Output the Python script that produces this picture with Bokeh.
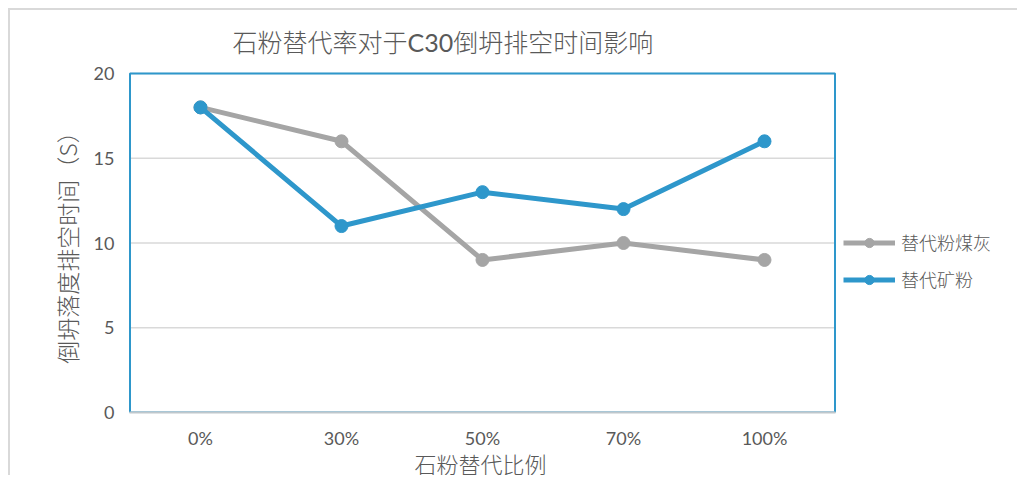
from bokeh.plotting import figure
from bokeh.models import (Legend, LegendItem, Range1d, FixedTicker, BoxAnnotation,
                          Title)
from bokeh.embed import file_html
from bokeh.resources import INLINE

# replacement ratio of stone powder
categories = ["0%", "30%", "50%", "70%", "100%"]
# emptying time (s) when replacing fly ash
fly_ash = [18, 16, 9, 10, 9]
# emptying time (s) when replacing slag powder
slag = [18, 11, 13, 12, 16]
y_ticks = [0, 5, 10, 15, 20]

GRAY = "#A5A5A5"
BLUE = "#2E97CB"
TEXT = "#595959"
CJK = "'Noto Sans CJK SC Light', 'Noto Sans CJK SC'"
LATIN_CJK = "Lato, " + CJK

n = len(categories)
xs = [i + 0.5 for i in range(n)]          # category centres on the x scale
y_max = y_ticks[-1]

# the frame runs to the right edge so the legend can sit beside the plot box
p = figure(
    width=1009, height=467,
    x_range=Range1d(-0.0106, 6.3085),
    y_range=Range1d(0, 20.118),
    output_backend="svg", toolbar_location=None,
    min_border_left=118, min_border_right=0,
    min_border_top=60, min_border_bottom=65,
    title="石粉替代率对于C30倒坍排空时间影响",
)

# light frame around the whole chart
p.margin = (8, 0, 0, 8)
p.styles = {"border-top": "2px solid #D9D9D9", "border-left": "2px solid #D9D9D9"}

p.title.text_font = LATIN_CJK
p.title.text_font_size = "25px"
p.title.text_font_style = "normal"
p.title.text_color = TEXT
p.title.align = "left"
p.title.offset = 104
p.title.standoff = 29

p.outline_line_color = None
p.xgrid.grid_line_color = None
p.ygrid.grid_line_color = None

# horizontal gridlines limited to the plot box
p.segment(x0=0, x1=n, y0=y_ticks, y1=y_ticks, line_color="#D9D9D9",
          line_width=1.5, level="underlay")
# plot box
p.add_layout(BoxAnnotation(left=0, right=n, bottom=0, top=y_max,
                           fill_alpha=0, line_color=BLUE, line_alpha=1.0,
                           line_width=2, level="underlay"))

p.yaxis.ticker = FixedTicker(ticks=y_ticks)
p.xaxis.ticker = FixedTicker(ticks=xs)
p.xaxis.major_label_overrides = {x: c for x, c in zip(xs, categories)}
p.xaxis.bounds = (0, n)

for ax in (p.xaxis[0], p.yaxis[0]):
    ax.major_tick_line_color = None
    ax.minor_tick_line_color = None
    ax.major_label_text_font = LATIN_CJK
    ax.major_label_text_font_size = "18px"
    ax.major_label_text_color = TEXT
    ax.axis_label_text_font = CJK
    ax.axis_label_text_font_size = "23px"
    ax.axis_label_text_font_style = "normal"
    ax.axis_label_text_color = TEXT

p.yaxis.axis_line_color = None
p.yaxis.major_label_standoff = 8
p.yaxis.axis_label = "倒坍落度排空时间（S）"
p.yaxis.axis_label_standoff = 7

p.xaxis.axis_line_color = "#BFC7CC"
p.xaxis.axis_line_width = 2
p.xaxis.major_label_standoff = 8

x_title = Title(text="石粉替代比例", align="left", offset=286, standoff=-14,
                text_font=CJK, text_font_size="22px", text_font_style="normal",
                text_color=TEXT)
p.add_layout(x_title, "below")

r1 = p.line(xs, fly_ash, line_color=GRAY, line_width=5)
c1 = p.scatter(xs, fly_ash, size=13, fill_color=GRAY, line_color=GRAY)
r2 = p.line(xs, slag, line_color=BLUE, line_width=5)
c2 = p.scatter(xs, slag, size=13, fill_color=BLUE, line_color=BLUE)

legend = Legend(
    items=[LegendItem(label="替代粉煤灰", renderers=[r1, c1]),
           LegendItem(label="替代矿粉", renderers=[r2, c2])],
    location=(715, 120), orientation="vertical",
    border_line_color=None, background_fill_alpha=0,
    padding=0, margin=0, spacing=11,
    glyph_width=52, glyph_height=23, label_height=23, label_standoff=6,
    label_text_font=CJK, label_text_font_size="18px", label_text_color=TEXT,
)
p.add_layout(legend)

open("out.html", "w").write(file_html(p, INLINE))
